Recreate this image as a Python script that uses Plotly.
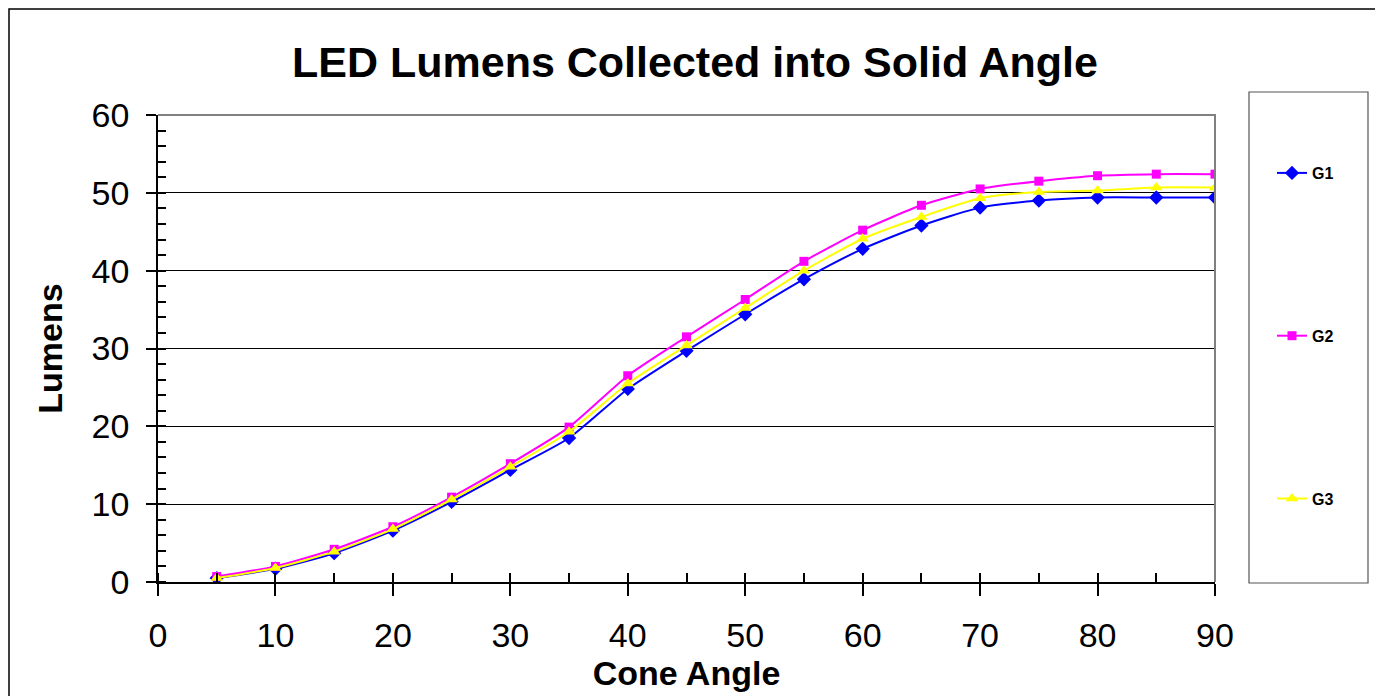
import plotly.graph_objects as go

cone_angle = [5, 10, 15, 20, 25, 30, 35, 40, 45, 50, 55, 60, 65, 70, 75, 80, 85, 90]
g1 = [0.5, 1.7, 3.7, 6.6, 10.3, 14.4, 18.5, 24.8, 29.7, 34.4, 38.9, 42.8, 45.8, 48.1, 49.0, 49.4, 49.4, 49.4]
g2 = [0.7, 2.0, 4.2, 7.1, 10.9, 15.2, 19.9, 26.5, 31.5, 36.3, 41.2, 45.2, 48.4, 50.5, 51.5, 52.2, 52.4, 52.4]
g3 = [0.5, 1.8, 3.9, 6.8, 10.6, 14.8, 19.3, 25.5, 30.4, 35.2, 40.0, 44.1, 46.9, 49.3, 50.1, 50.3, 50.7, 50.7]

series = [
    ("G1", g1, "#0000FF", "diamond", 11),
    ("G2", g2, "#FF00FF", "square", 9),
    ("G3", g3, "#FFFF00", "triangle-up", 11),
]

FONT = "Arial, Liberation Sans, sans-serif"

fig = go.Figure()
for name, vals, color, sym, size in series:
    fig.add_trace(go.Scatter(
        x=cone_angle, y=vals, name="<b>" + name + "</b>", mode="lines+markers",
        line=dict(color=color, width=2, shape="spline", smoothing=0.6),
        marker=dict(symbol=sym, size=size, color=color),
        legendgroup=name,
    ))

OFF = 8  # page body margin
W, H = 1383 - OFF, 696 - OFF
L, R, T, B = 158 - OFF, 1215 - OFF, 115 - OFF, 582 - OFF
pw, ph = R - L, B - T

def px(xp):
    return (xp - OFF - L) / pw

def py(yp):
    return (B - (yp - OFF)) / ph

fig.update_layout(
    width=W, height=H,
    margin=dict(l=L, r=W - R, t=T, b=H - B),
    paper_bgcolor="white", plot_bgcolor="white",
    font=dict(family=FONT, color="black"),
    title=dict(text="<b>LED Lumens Collected into Solid Angle</b>",
               x=((293 + 1097) / 2 - OFF) / W, xanchor="center",
               y=1 - (62 - OFF) / H, yanchor="middle",
               font=dict(size=43, family=FONT, color="black")),
    showlegend=True,
    legend=dict(x=px(1272), y=py(156), xanchor="left", yanchor="top",
                bgcolor="rgba(0,0,0,0)", borderwidth=0,
                font=dict(size=16, family=FONT, color="black"),
                tracegroupgap=139, itemwidth=30),
    xaxis=dict(range=[0, 90], dtick=10, tick0=0,
               showgrid=False, zeroline=False,
               showline=True, linecolor="black", linewidth=1.5,
               ticks="outside", ticklen=12, tickcolor="black", tickwidth=1.5,
               ticklabelstandoff=10,
               minor=dict(dtick=5, ticks="inside", ticklen=9, tickcolor="black", showgrid=False),
               tickfont=dict(size=34, family=FONT, color="black"),
               title=dict(text="<b>Cone Angle</b>", font=dict(size=34, family=FONT, color="black"), standoff=2)),
    yaxis=dict(range=[0, 60], dtick=10, tick0=0,
               showgrid=True, gridcolor="black", gridwidth=1.2, zeroline=False,
               showline=True, linecolor="black", linewidth=1.5,
               ticks="outside", ticklen=10, tickcolor="black", tickwidth=1.5,
               ticklabelstandoff=10,
               minor=dict(dtick=2, ticks="inside", ticklen=8, tickcolor="black", showgrid=False),
               tickfont=dict(size=34, family=FONT, color="black"),
               title=dict(text="<b>Lumens</b>", font=dict(size=34, family=FONT, color="black"), standoff=19)),
    shapes=[
        dict(type="path", xref="paper", yref="paper", path="M 0,1 L 1,1 L 1,0",
             line=dict(color="#808080", width=2), layer="above"),
        dict(type="rect", xref="paper", yref="paper",
             x0=px(1249), x1=px(1368), y0=py(583), y1=py(92),
             line=dict(color="#555555", width=1.2), fillcolor="rgba(0,0,0,0)", layer="below"),
        dict(type="rect", xref="paper", yref="paper",
             x0=px(9), x1=px(1379), y0=py(705), y1=py(9),
             line=dict(color="black", width=1.5), fillcolor="rgba(0,0,0,0)", layer="below"),
    ],
)

fig.write_html("out.html")
